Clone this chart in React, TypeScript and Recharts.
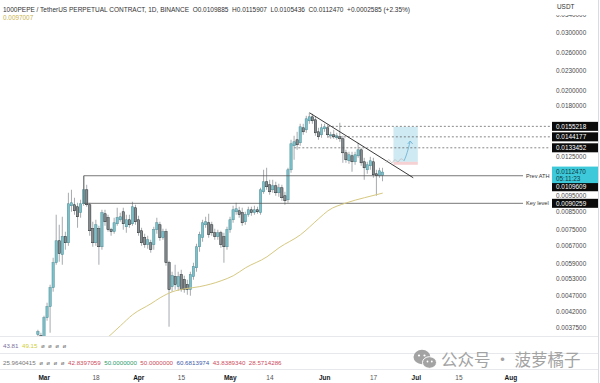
import React from 'react';
import { ComposedChart, Bar, Line, XAxis, YAxis, ReferenceLine, ReferenceArea } from 'recharts';

// ---- axis domain (days relative to 2024-03-01) ----
const START_DAY = -14;
const END_DAY = 166;
const FIRST_CANDLE_DAY = -2;
const days: number[] = Array.from({ length: END_DAY - START_DAY + 1 }, (_, i) => START_DAY + i);

const tickDays = [0, 17, 31, 45, 61, 74, 92, 108, 122, 136, 153];
const tickLabels = ['Mar', '18', 'Apr', '15', 'May', '14', 'Jun', '17', 'Jul', '15', 'Aug'];
const monthLabels = ['Mar', 'Apr', 'May', 'Jun', 'Jul', 'Aug'];

const priceTicks = [0.034, 0.03, 0.026, 0.023, 0.02, 0.018, 0.0125, 0.0095, 0.0085, 0.0075, 0.0067, 0.0059, 0.0053, 0.0047, 0.0042, 0.00375];
const darkMarks = [0.0155218, 0.0144177, 0.0133452, 0.0109609, 0.0090259];
const lastPrice = 0.011247;
const countdown = '05:11:23';

// daily candles [open, high, low, close] from FIRST_CANDLE_DAY
const candles: number[][] = [
  [0.003577, 0.003705, 0.003527, 0.003653],
  [0.003552, 0.003627, 0.003311, 0.003453],
  [0.003405, 0.004089, 0.003357, 0.004032],
  [0.004032, 0.004481, 0.003948, 0.004357],
  [0.004357, 0.005087, 0.003627, 0.004981],
  [0.004981, 0.006152, 0.004842, 0.005939],
  [0.005939, 0.008328, 0.005856, 0.006934],
  [0.006934, 0.007761, 0.005981, 0.006328],
  [0.006283, 0.008211, 0.005856, 0.007133],
  [0.007133, 0.007388, 0.006509, 0.006837],
  [0.006837, 0.009723, 0.006694, 0.008998],
  [0.008872, 0.00993, 0.008505, 0.009062],
  [0.008935, 0.009387, 0.008328, 0.008565],
  [0.00881, 0.009062, 0.007599, 0.008211],
  [0.008446, 0.009255, 0.008154, 0.008998],
  [0.008998, 0.010961, 0.008872, 0.00993],
  [0.00993, 0.010286, 0.00881, 0.008935],
  [0.008935, 0.009062, 0.007183, 0.00744],
  [0.007546, 0.007927, 0.006647, 0.006837],
  [0.006837, 0.008039, 0.006694, 0.007761],
  [0.007546, 0.007707, 0.005856, 0.006647],
  [0.006647, 0.008626, 0.006509, 0.008446],
  [0.008386, 0.008626, 0.007707, 0.007927],
  [0.008154, 0.008328, 0.007388, 0.007493],
  [0.007493, 0.007599, 0.007183, 0.007388],
  [0.007388, 0.008154, 0.007285, 0.007871],
  [0.007816, 0.008748, 0.007707, 0.008154],
  [0.008039, 0.008446, 0.007927, 0.008211],
  [0.008505, 0.008748, 0.007493, 0.007816],
  [0.007652, 0.008328, 0.007336, 0.008039],
  [0.008039, 0.008328, 0.007599, 0.007761],
  [0.007816, 0.009126, 0.007707, 0.00881],
  [0.008748, 0.008935, 0.007761, 0.007927],
  [0.008039, 0.008269, 0.007183, 0.007336],
  [0.00744, 0.007599, 0.006694, 0.006837],
  [0.007083, 0.007285, 0.006601, 0.006742],
  [0.006742, 0.007183, 0.006555, 0.006983],
  [0.006837, 0.006983, 0.006373, 0.006509],
  [0.006742, 0.007652, 0.006509, 0.007493],
  [0.007493, 0.008154, 0.007285, 0.007871],
  [0.007761, 0.007927, 0.006934, 0.007083],
  [0.007083, 0.007546, 0.006983, 0.007388],
  [0.007388, 0.007546, 0.005815, 0.005939],
  [0.005939, 0.006023, 0.003784, 0.004911],
  [0.005016, 0.005574, 0.004842, 0.00542],
  [0.005382, 0.005856, 0.004911, 0.005087],
  [0.005016, 0.005574, 0.004876, 0.005382],
  [0.005458, 0.005653, 0.004842, 0.004911],
  [0.005269, 0.00542, 0.004808, 0.004911],
  [0.005087, 0.005269, 0.004741, 0.004911],
  [0.004911, 0.005574, 0.004708, 0.005458],
  [0.005382, 0.005939, 0.005269, 0.005774],
  [0.005733, 0.006789, 0.005574, 0.006647],
  [0.006647, 0.007388, 0.006418, 0.007234],
  [0.007083, 0.008039, 0.006885, 0.007871],
  [0.007761, 0.008211, 0.007599, 0.007927],
  [0.007871, 0.008386, 0.007083, 0.007234],
  [0.007761, 0.007927, 0.007183, 0.007336],
  [0.007336, 0.007546, 0.006983, 0.007133],
  [0.007133, 0.007493, 0.006983, 0.007336],
  [0.007336, 0.00744, 0.006601, 0.006742],
  [0.007133, 0.007336, 0.005939, 0.006647],
  [0.006647, 0.007652, 0.006509, 0.007493],
  [0.007493, 0.008211, 0.007336, 0.008039],
  [0.008039, 0.008872, 0.007871, 0.008626],
  [0.008505, 0.009062, 0.008328, 0.008687],
  [0.008565, 0.00881, 0.008154, 0.008328],
  [0.008446, 0.008748, 0.007707, 0.007871],
  [0.007927, 0.008505, 0.007761, 0.008328],
  [0.008328, 0.00881, 0.008211, 0.008626],
  [0.008626, 0.00881, 0.008269, 0.008446],
  [0.008446, 0.008872, 0.008328, 0.008626],
  [0.008626, 0.00881, 0.008386, 0.008505],
  [0.008446, 0.010071, 0.008328, 0.00993],
  [0.009791, 0.011432, 0.009655, 0.010506],
  [0.010506, 0.011594, 0.00993, 0.010142],
  [0.010286, 0.010655, 0.009587, 0.009791],
  [0.00993, 0.010655, 0.009723, 0.010214],
  [0.010214, 0.010506, 0.00952, 0.009723],
  [0.009723, 0.010359, 0.009453, 0.010071],
  [0.010071, 0.010286, 0.00919, 0.009387],
  [0.00952, 0.009791, 0.008935, 0.00919],
  [0.009255, 0.011594, 0.009062, 0.011432],
  [0.011432, 0.014121, 0.011193, 0.013729],
  [0.013536, 0.014525, 0.012266, 0.013924],
  [0.014121, 0.014938, 0.01316, 0.013632],
  [0.013826, 0.015805, 0.013536, 0.015473],
  [0.015365, 0.015805, 0.014628, 0.014938],
  [0.01515, 0.01672, 0.014833, 0.01637],
  [0.016143, 0.017077, 0.015805, 0.016602],
  [0.016602, 0.016957, 0.015805, 0.016143],
  [0.016257, 0.016602, 0.014525, 0.014833],
  [0.014938, 0.015365, 0.014121, 0.014423],
  [0.014628, 0.015805, 0.014322, 0.015365],
  [0.015257, 0.015805, 0.014938, 0.015473],
  [0.015365, 0.015693, 0.014322, 0.014628],
  [0.014525, 0.014938, 0.014222, 0.014628],
  [0.014628, 0.01515, 0.014222, 0.014423],
  [0.014322, 0.014833, 0.014121, 0.014525],
  [0.014423, 0.015917, 0.013924, 0.014222],
  [0.014222, 0.014525, 0.012009, 0.012885],
  [0.012885, 0.01316, 0.012009, 0.012266],
  [0.01218, 0.012976, 0.011925, 0.012705],
  [0.012616, 0.012976, 0.011272, 0.012094],
  [0.012094, 0.012976, 0.011842, 0.012705],
  [0.012616, 0.013826, 0.012439, 0.01316],
  [0.01316, 0.013347, 0.011759, 0.012009],
  [0.012094, 0.012439, 0.010655, 0.011594],
  [0.011432, 0.012094, 0.011115, 0.011842],
  [0.011759, 0.012527, 0.011432, 0.01218],
  [0.012094, 0.012439, 0.010806, 0.011036],
  [0.011115, 0.011432, 0.00952, 0.010959],
  [0.010959, 0.011594, 0.010806, 0.011352],
  [0.0109885, 0.0115907, 0.0105436, 0.011247],
];

// moving average read at sampled days
const maDays = [21, 25, 29, 35, 38, 42, 46, 51, 58, 62, 66, 73, 77, 84, 90, 93, 99, 105, 111];
const maValues = [0.00352, 0.00381, 0.00412, 0.00445, 0.00464, 0.00484, 0.00494, 0.00502, 0.00523, 0.00542, 0.00573, 0.00619, 0.0066, 0.00723, 0.0081, 0.00856, 0.00905, 0.00939, 0.0097007];

// projection scribble
const scribbleDays = [112, 113, 114, 115, 116, 117, 118];
const scribbleValues = [0.01201, 0.01227, 0.01201, 0.01227, 0.01209, 0.01235, 0.01218];
const arrowDays = [118, 119, 120];
const arrowValues = [0.01218, 0.0129, 0.014];

// drawings
const prevAth = 0.0109609;
const keyLevel = 0.0090259;
const dashedLevels = [0.0155218, 0.0144177, 0.0133452];
const dashedStart = [93, 93, 82];
const trendStart = { day: 87, price: 0.017077 };
const trendEnd = { day: 121, price: 0.010806 };
const boxDays = [115, 122];
const boxTop = 0.01547;
const boxEntry = 0.01209;
const boxStop = 0.01184;

const data = days.map((day) => {
  const ci = day - FIRST_CANDLE_DAY;
  const cd = ci >= 0 && ci < candles.length ? candles[ci] : null;
  const mi = maDays.indexOf(day);
  const si = scribbleDays.indexOf(day);
  const ai = arrowDays.indexOf(day);
  return {
    day,
    range: cd ? [cd[2], cd[1]] : null,
    o: cd ? cd[0] : null,
    h: cd ? cd[1] : null,
    l: cd ? cd[2] : null,
    c: cd ? cd[3] : null,
    ma: mi >= 0 ? maValues[mi] : null,
    scribble: si >= 0 ? scribbleValues[si] : null,
    arrow: ai >= 0 ? arrowValues[ai] : null,
  };
});

const FONT = '"Liberation Sans", Arial, sans-serif';
const upFill = '#7cc0ca';
const upStroke = '#4d8a94';
const downFill = '#858d90';
const downStroke = '#22282a';
const wickColor = '#8e9699';

const Candle = (props: any) => {
  const { x, y, width, height, payload } = props;
  if (!payload || payload.o == null || !isFinite(y) || !isFinite(height)) return null;
  const { o, h, l, c } = payload;
  const top = Math.min(y, y + height);
  const hgt = Math.abs(height);
  const lh = Math.log(h);
  const ll = Math.log(l);
  const py = (p: number) => (lh === ll ? top : top + (hgt * (lh - Math.log(p))) / (lh - ll));
  const cx = x + width / 2;
  const up = c >= o;
  const yo = py(o);
  const yc = py(c);
  const bTop = Math.min(yo, yc);
  const bH = Math.max(Math.abs(yo - yc), 0.8);
  const bw = 2.3;
  return (
    <g>
      <line x1={cx} x2={cx} y1={top} y2={top + hgt} stroke={wickColor} strokeWidth={0.8} />
      <rect x={cx - bw / 2} y={bTop} width={bw} height={bH} fill={up ? upFill : downFill} stroke={up ? upStroke : downStroke} strokeWidth={0.5} />
    </g>
  );
};

const XTick = (props: any) => {
  const { x, payload } = props;
  const i = tickDays.indexOf(Number(payload.value));
  if (i < 0) return null;
  const label = tickLabels[i];
  const major = monthLabels.includes(label);
  return (
    <text x={x} y={379.5} textAnchor="middle" fontSize={6.5} fontFamily={FONT} fontWeight={major ? 700 : 400} fill={major ? '#131722' : '#555'}>
      {label}
    </text>
  );
};

const YTick = (props: any) => {
  const { y, payload } = props;
  const v = Number(payload.value);
  const txt = v.toFixed(7);
  const isDark = darkMarks.some((m) => Math.abs(m - v) < 1e-10);
  const isLast = Math.abs(v - lastPrice) < 1e-10;
  if (isLast) {
    return (
      <g>
        <rect x={552} y={y - 5.5} width={46} height={16.5} fill="#3ec9da" />
        <text x={556} y={y + 2.2} fontSize={6.4} fontFamily={FONT} fill="#0c3b44">{txt}</text>
        <text x={556} y={y + 8.6} fontSize={6.4} fontFamily={FONT} fill="#0c3b44">{countdown}</text>
      </g>
    );
  }
  if (isDark) {
    const yy = Math.abs(v - prevAth) < 1e-10 ? y + 11 : y;
    return (
      <g>
        <rect x={552} y={yy - 4.5} width={46} height={9} fill="#0b0b0b" />
        <text x={556} y={yy + 2.2} fontSize={6.4} fontFamily={FONT} fill="#ffffff">{txt}</text>
      </g>
    );
  }
  return (
    <text x={556} y={y + 2.2} fontSize={6.4} fontFamily={FONT} fill="#4a4a4a">{txt}</text>
  );
};

const ArrowDot = (props: any) => {
  const { cx, cy, index } = props;
  if (props.payload?.day !== arrowDays[arrowDays.length - 1]) return <g key={`ad-${index}`} />;
  return (
    <polyline key={`ad-${index}`} points={`${cx - 2.5},${cy + 3} ${cx},${cy} ${cx + 2.5},${cy + 3}`} fill="none" stroke="#6fb4d6" strokeWidth={0.9} />
  );
};

const lineLabel = (text: string) => ({ value: text, position: 'right' as const, offset: 3, fontSize: 5.6, fill: '#333', fontFamily: FONT });

export default function App() {
  const allTicks = [...priceTicks, keyLevel, ...darkMarks.filter((m) => m !== keyLevel), lastPrice];
  return (
    <div style={{ position: 'absolute', left: 0, top: 0, width: 600, height: 383, background: '#fff', overflow: 'hidden', fontFamily: FONT }}>
      <ComposedChart width={600} height={383} data={data} margin={{ top: 0, right: 0, bottom: 0, left: 0 }}>
        <XAxis dataKey="day" type="category" ticks={tickDays} interval={0} tick={<XTick />} axisLine={false} tickLine={false} height={46} />
        <YAxis
          orientation="right"
          type="number"
          scale="log"
          domain={[0.00352, 0.0378]}
          allowDataOverflow
          ticks={allTicks}
          interval={0}
          tick={<YTick />}
          axisLine={false}
          tickLine={false}
          width={48}
        />
        <ReferenceArea x1={boxDays[0]} x2={boxDays[1]} y1={boxEntry} y2={boxTop} fill="#bfe3ef" fillOpacity={0.75} stroke="none" ifOverflow="hidden" />
        <ReferenceArea x1={boxDays[0]} x2={boxDays[1]} y1={boxStop} y2={boxEntry} fill="#f3c9cc" fillOpacity={0.85} stroke="none" ifOverflow="hidden" />
        {dashedLevels.map((lv, i) => (
          <ReferenceLine key={`dl${i}`} segment={[{ x: dashedStart[i], y: lv }, { x: END_DAY, y: lv }]} stroke="#555" strokeWidth={0.7} strokeDasharray="2 2" ifOverflow="visible" />
        ))}
        <ReferenceLine segment={[{ x: 13, y: prevAth }, { x: 157, y: prevAth }]} stroke="#555" strokeWidth={0.8} label={lineLabel('Prev ATH')} ifOverflow="visible" />
        <ReferenceLine segment={[{ x: 13, y: keyLevel }, { x: 157, y: keyLevel }]} stroke="#555" strokeWidth={0.8} label={lineLabel('Key level')} ifOverflow="visible" />
        <ReferenceLine segment={[{ x: 13, y: keyLevel }, { x: 13, y: prevAth }]} stroke="#555" strokeWidth={0.8} ifOverflow="visible" />
        <Line dataKey="ma" type="monotone" stroke="#d6c880" strokeWidth={1} dot={false} connectNulls isAnimationActive={false} />
        <Bar dataKey="range" shape={<Candle />} isAnimationActive={false} />
        <ReferenceLine segment={[{ x: trendStart.day, y: trendStart.price }, { x: trendEnd.day, y: trendEnd.price }]} stroke="#222" strokeWidth={0.9} ifOverflow="visible" />
        <Line dataKey="scribble" type="monotone" stroke="#b9b9b9" strokeWidth={0.7} dot={false} connectNulls isAnimationActive={false} />
        <Line dataKey="arrow" type="monotone" stroke="#6fb4d6" strokeWidth={0.9} dot={<ArrowDot />} connectNulls isAnimationActive={false} />
      </ComposedChart>

      {/* header */}
      <div style={{ position: 'absolute', left: 3, top: 6, fontSize: 6.5, lineHeight: '7px', color: '#333', whiteSpace: 'nowrap' }}>
        1000PEPE / TetherUS PERPETUAL CONTRACT, 1D, BINANCE&nbsp;&nbsp;O0.0109885&nbsp;&nbsp;H0.0115907&nbsp;&nbsp;L0.0105436&nbsp;&nbsp;C0.0112470&nbsp;&nbsp;+0.0002585 (+2.35%)
      </div>
      <div style={{ position: 'absolute', left: 3, top: 14, fontSize: 6.4, lineHeight: '7px', color: '#c9b24a' }}>0.0097007</div>
      <div style={{ position: 'absolute', left: 552, top: 0, width: 46, height: 14.5, background: '#fff' }} />
      <div style={{ position: 'absolute', left: 557, top: 3, fontSize: 6.4, lineHeight: '7px', color: '#333' }}>USDT</div>

      {/* pane separators */}
      <div style={{ position: 'absolute', left: 0, top: 336, width: 598, height: 1, background: '#e6e8ec' }} />
      <div style={{ position: 'absolute', left: 0, top: 353, width: 598, height: 1, background: '#e6e8ec' }} />
      <div style={{ position: 'absolute', left: 0, top: 369, width: 598, height: 1, background: '#e6e8ec' }} />
      <div style={{ position: 'absolute', left: 598, top: 0, width: 1, height: 383, background: '#d8dbe0' }} />

      {/* indicator legends */}
      <div style={{ position: 'absolute', left: 3, top: 341.5, fontSize: 6.2, lineHeight: '7px', whiteSpace: 'nowrap', color: '#777' }}>
        <span style={{ color: '#7b6f9c' }}>43.81</span>&nbsp;&nbsp;
        <span style={{ color: '#cfcf3a' }}>49.15</span>&nbsp;&nbsp;
        <span>ø&nbsp;&nbsp;ø&nbsp;&nbsp;ø&nbsp;&nbsp;ø</span>
      </div>
      <div style={{ position: 'absolute', left: 3, top: 358.5, fontSize: 6.2, lineHeight: '7px', whiteSpace: 'nowrap', color: '#777' }}>
        <span>25.9640415</span>&nbsp;&nbsp;
        <span>ø&nbsp;&nbsp;ø&nbsp;&nbsp;ø&nbsp;&nbsp;ø</span>&nbsp;&nbsp;
        <span style={{ color: '#cc4b5c' }}>42.8397059</span>&nbsp;&nbsp;
        <span style={{ color: '#2f9a6e' }}>50.0000000</span>&nbsp;&nbsp;
        <span style={{ color: '#cc4b5c' }}>50.0000000</span>&nbsp;&nbsp;
        <span style={{ color: '#3c5aa8' }}>60.6813974</span>&nbsp;&nbsp;
        <span style={{ color: '#cc4b5c' }}>43.8389340</span>&nbsp;&nbsp;
        <span style={{ color: '#cc4b5c' }}>28.5714286</span>
      </div>

      {/* watermark */}
      <svg style={{ position: 'absolute', left: 412, top: 348 }} width={28} height={24}>
        <ellipse cx={10} cy={9} rx={8.5} ry={7.2} fill="#a3a3a3" />
        <ellipse cx={17.5} cy={14.5} rx={7} ry={5.8} fill="#a3a3a3" stroke="#fff" strokeWidth={1} />
        <circle cx={7} cy={7.5} r={1.1} fill="#fff" />
        <circle cx={12.5} cy={7.5} r={1.1} fill="#fff" />
        <circle cx={15.5} cy={13.5} r={0.9} fill="#fff" />
        <circle cx={19.8} cy={13.5} r={0.9} fill="#fff" />
      </svg>
      <div style={{ position: 'absolute', left: 441, top: 349, fontSize: 16.5, lineHeight: '20px', color: '#a3a3a3', whiteSpace: 'nowrap', fontFamily: '"Noto Sans CJK SC", sans-serif' }}>
        公众号 · 菠萝橘子
      </div>
    </div>
  );
}
